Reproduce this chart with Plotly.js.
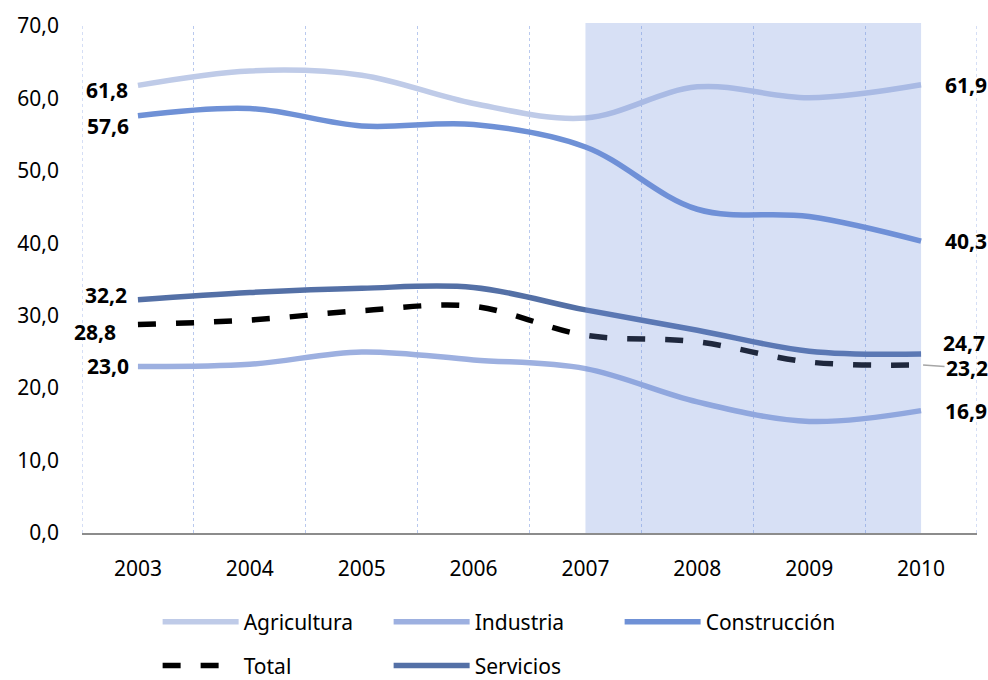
<!DOCTYPE html>
<html><head><meta charset="utf-8">
<script src="https://cdn.plot.ly/plotly-3.0.1.min.js"></script>
<style>html,body{margin:0;padding:0;background:#fff}#chart{width:988px;height:680px}#err{position:absolute;left:100px;top:100px;color:red;font:14px monospace;white-space:pre-wrap;width:800px}</style>
</head><body><div id="chart"></div><div id="err"></div>
<script>
window.onerror = function(m, s, l, c, e){ document.getElementById('err').textContent += 'ERR: ' + m + ' @' + l + '\n' + (e && e.stack || ''); };
// ---- data ----
const years = ['2003', '2004', '2005', '2006', '2007', '2008', '2009', '2010'];
const agricultura  = [61.8, 63.8, 63.2, 59.3, 57.3, 61.6, 60.1, 61.9];
const industria    = [23.0, 23.3, 25.0, 23.9, 22.7, 18.1, 15.4, 16.9];
const construccion = [57.6, 58.6, 56.2, 56.4, 53.3, 44.7, 43.7, 40.3];
const total        = [28.8, 29.4, 30.7, 31.3, 27.3, 26.4, 23.6, 23.2];
const servicios    = [32.2, 33.2, 33.8, 33.9, 30.8, 28.0, 25.1, 24.7];
const seriesNames  = ['Agricultura', 'Industria', 'Construcción', 'Total', 'Servicios'];
const shadeStartIndex = 4, shadeEndIndex = 7; // 2007 .. 2010

// ---- styles ----
const FONT = 'Noto Sans, Open Sans, sans-serif';
const GRID = '#b9c9ee';
const styles = {
  'Agricultura':  {color: '#bfcbe8', width: 5.5, dash: 'solid', legend: 'legend'},
  'Industria':    {color: '#9db0e0', width: 5.5, dash: 'solid', legend: 'legend'},
  'Construcción': {color: '#6f91d6', width: 5.5, dash: 'solid', legend: 'legend'},
  'Total':        {color: '#000000', width: 5.5, dash: '18px,20px', legend: 'legend2'},
  'Servicios':    {color: '#5470a6', width: 5.5, dash: 'solid', legend: 'legend2'}
};
const labelOffsets = {
  'Agricultura':  {first: [-8, -5],  last: [22, 0]},
  'Industria':    {first: [-7, 0],   last: [22, 0]},
  'Construcción': {first: [-7, -10], last: [22, 0]},
  'Total':        {first: [-20, -8], last: null},
  'Servicios':    {first: [-9, 5],   last: [20, 11]}
};
const values = {
  'Agricultura': agricultura, 'Industria': industria, 'Construcción': construccion,
  'Total': total, 'Servicios': servicios
};
const fmt = v => v.toFixed(1).replace('.', ',');

const traces = seriesNames.map(name => ({
  type: 'scatter', mode: 'lines', name: name,
  x: years, y: values[name],
  line: {color: styles[name].color, width: styles[name].width, dash: styles[name].dash, shape: 'spline', smoothing: 1},
  legend: styles[name].legend,
  cliponaxis: false,
  hoverinfo: 'x+y+name'
}));

const annotations = [];
seriesNames.forEach(name => {
  const v = values[name];
  const off = labelOffsets[name];
  const base = {xref: 'x', yref: 'y', showarrow: false, font: {family: FONT, size: 21, color: '#000'}};
  annotations.push(Object.assign({}, base, {
    x: 0, y: v[0], text: '<b>' + fmt(v[0]) + '</b>',
    xanchor: 'right', yanchor: 'middle', xshift: off.first[0], yshift: off.first[1]
  }));
  const n = v.length - 1;
  if (off.last) {
    annotations.push(Object.assign({}, base, {
      x: n, y: v[n], text: '<b>' + fmt(v[n]) + '</b>',
      xanchor: 'left', yanchor: 'middle', xshift: off.last[0], yshift: off.last[1]
    }));
  } else {
    annotations.push(Object.assign({}, base, {
      x: n, y: v[n], text: '<b>' + fmt(v[n]) + '</b>',
      showarrow: true, arrowhead: 0, arrowwidth: 1.5, arrowcolor: '#a6a6a6',
      ax: 46, ay: 3, standoff: 2
    }));
  }
});

// outer boundary gridlines (Plotly omits the ones at the range edges)
const edgeLines = [-0.5, years.length - 0.5].map(xv => ({
  type: 'line', xref: 'x', yref: 'paper', x0: xv, x1: xv, y0: 0, y1: 1,
  line: {color: GRID, width: 1.2, dash: 'dot'}, layer: 'below'
}));

const layout = {
  width: 988, height: 680,
  margin: {l: 82, r: 11, t: 26, b: 147, autoexpand: false},
  paper_bgcolor: '#fff', plot_bgcolor: '#fff',
  separators: ',.',
  font: {family: FONT, size: 21, color: '#000'},
  showlegend: true,
  xaxis: {
    type: 'category', range: [-0.5, 7.5], fixedrange: true,
    tickson: 'boundaries', ticks: '', showgrid: true,
    gridcolor: GRID, griddash: 'dot', gridwidth: 1.2,
    showline: true, linecolor: '#8c8c8c', linewidth: 2,
    ticklabelstandoff: 16, tickfont: {family: FONT, size: 21, color: '#000'}
  },
  yaxis: {
    range: [0, 70], dtick: 10, tickformat: '.1f', fixedrange: true,
    showgrid: false, zeroline: false, showline: false, ticks: '',
    ticklabelstandoff: 22, tickfont: {family: FONT, size: 21, color: '#000'}
  },
  legend: {
    orientation: 'h', x: 0.0845, xanchor: 'left', y: -0.1755, yanchor: 'middle',
    entrywidth: 140, entrywidthmode: 'pixels', itemwidth: 76, traceorder: 'normal',
    font: {family: FONT, size: 21, color: '#000'}, bgcolor: 'rgba(0,0,0,0)'
  },
  legend2: {
    orientation: 'h', x: 0.0845, xanchor: 'left', y: -0.262, yanchor: 'middle',
    entrywidth: 140, entrywidthmode: 'pixels', itemwidth: 76, traceorder: 'normal',
    font: {family: FONT, size: 21, color: '#000'}, bgcolor: 'rgba(0,0,0,0)'
  },
  shapes: edgeLines.concat([{
    type: 'rect', xref: 'x', yref: 'paper', x0: shadeStartIndex, x1: shadeEndIndex, y0: 0, y1: 1.006,
    fillcolor: 'rgba(110,145,220,0.28)', line: {width: 0}, layer: 'above'
  }]),
  annotations: annotations
};

Plotly.newPlot('chart', traces, layout, {displayModeBar: false}).catch(e => {
  document.getElementById('err').textContent += 'PROMISE: ' + e + '\n' + (e && e.stack || '');
});
</script>
</body></html>
